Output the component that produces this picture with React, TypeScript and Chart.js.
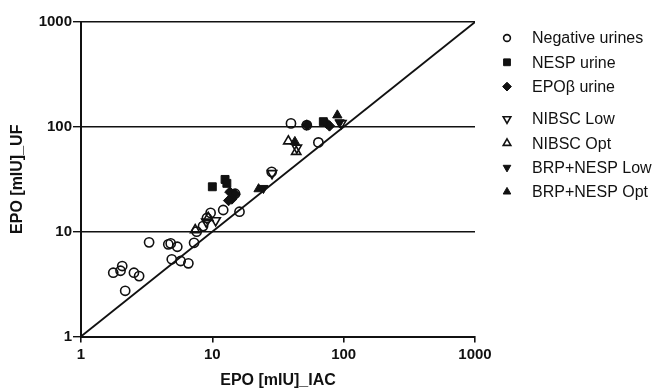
import React, { useEffect, useRef } from "react";
import { Chart, registerables } from "chart.js";
import { drawPoint } from "chart.js/helpers";

Chart.register(...registerables);

// ---- data ----
const decadeTicks = [1, 10, 100, 1000];

const seriesNames = [
  "Negative urines",
  "NESP urine",
  "EPOβ urine",
  "NIBSC Low",
  "NIBSC Opt",
  "BRP+NESP Low",
  "BRP+NESP Opt",
];

const negX = [1.76, 2.0, 2.06, 2.53, 2.77, 2.17, 3.3, 4.62, 4.82, 5.41, 4.91, 5.74, 6.57, 7.26, 7.6, 8.5, 9.1, 9.7, 12.1, 16.1, 14.9, 28.3, 39.7, 52.4, 64.2];
const negY = [4.06, 4.24, 4.7, 4.06, 3.77, 2.73, 7.91, 7.57, 7.73, 7.18, 5.45, 5.25, 4.99, 7.83, 10.0, 11.3, 13.5, 15.1, 16.1, 15.5, 23.0, 37.2, 107.8, 103.7, 71.0];

const nespX = [10.0, 12.5, 12.9, 70];
const nespY = [26.8, 31.5, 28.9, 112];

const epoX = [13.6, 14.9, 14.1, 13.3, 52.4, 74, 78];
const epoY = [23.9, 22.8, 20.5, 19.8, 104, 108, 102];

const nibscLowX = [9.0, 10.6, 28.5, 44, 96];
const nibscLowY = [12.4, 12.8, 36, 63, 108];

const nibscOptX = [7.4, 9.3, 37.9, 43.5];
const nibscOptY = [10.4, 13.6, 73, 58];

const brpLowX = [24.5, 93];
const brpLowY = [26, 110];

const brpOptX = [22.5, 42.5, 89.5];
const brpOptY = [25.5, 72, 129];

const identityLine = [1, 1000];

// ---- styling ----
const FONT = '"Liberation Sans", Arial, Helvetica, sans-serif';
const INK = "#111";

const pts = (xs: number[], ys: number[]) => xs.map((x, i) => ({ x, y: ys[i] }));

type MarkerStyle = {
  pointStyle: string;
  rotation: number;
  filled: boolean;
  radius: number;
  legendRadius: number;
};

const markers: MarkerStyle[] = [
  { pointStyle: "circle", rotation: 0, filled: false, radius: 4.6, legendRadius: 3.4 },
  { pointStyle: "rect", rotation: 0, filled: true, radius: 5.6, legendRadius: 4.8 },
  { pointStyle: "rectRot", rotation: 0, filled: true, radius: 5.2, legendRadius: 4.4 },
  { pointStyle: "triangle", rotation: 180, filled: false, radius: 5.4, legendRadius: 4.4 },
  { pointStyle: "triangle", rotation: 0, filled: false, radius: 5.4, legendRadius: 4.4 },
  { pointStyle: "triangle", rotation: 180, filled: true, radius: 5.4, legendRadius: 4.4 },
  { pointStyle: "triangle", rotation: 0, filled: true, radius: 5.4, legendRadius: 4.4 },
];

const seriesData = [
  pts(negX, negY),
  pts(nespX, nespY),
  pts(epoX, epoY),
  pts(nibscLowX, nibscLowY),
  pts(nibscOptX, nibscOptY),
  pts(brpLowX, brpLowY),
  pts(brpOptX, brpOptY),
];

const legendPlugin = {
  id: "customLegend",
  afterDraw(chart: any) {
    const ctx = chart.ctx;
    ctx.save();
    ctx.font = `16px ${FONT}`;
    ctx.textBaseline = "middle";
    ctx.textAlign = "left";
    seriesNames.forEach((name, i) => {
      const y = 38 + i * 24.3 + (i >= 3 ? 8 : 0);
      const m = markers[i];
      ctx.fillStyle = m.filled ? INK : "rgba(0,0,0,0)";
      ctx.strokeStyle = INK;
      ctx.lineWidth = m.filled ? 1 : 1.6;
      drawPoint(
        ctx,
        { pointStyle: m.pointStyle, rotation: m.rotation, radius: m.legendRadius, borderWidth: ctx.lineWidth },
        507,
        y
      );
      ctx.fillStyle = INK;
      ctx.fillText(name, 532, y + 1);
    });
    ctx.restore();
  },
};

export default function App() {
  const canvasRef = useRef<HTMLCanvasElement | null>(null);

  useEffect(() => {
    if (!canvasRef.current) return;
    const scatterSets = seriesData.map((data, i) => {
      const m = markers[i];
      return {
        type: "scatter" as const,
        label: seriesNames[i],
        data,
        pointStyle: m.pointStyle,
        pointRotation: m.rotation,
        pointRadius: m.radius,
        pointBorderWidth: m.filled ? 1 : 1.6,
        pointBackgroundColor: m.filled ? INK : "rgba(0,0,0,0)",
        pointBorderColor: INK,
        showLine: false,
      };
    });

    const chart = new Chart(canvasRef.current, {
      type: "scatter",
      data: {
        datasets: [
          {
            type: "line" as const,
            label: "identity",
            data: identityLine.map((v) => ({ x: v, y: v })),
            borderColor: INK,
            borderWidth: 1.8,
            pointRadius: 0,
            fill: false,
          },
          ...scatterSets,
        ] as any,
      },
      options: {
        responsive: false,
        animation: false,
        devicePixelRatio: 1,
        layout: { padding: { top: 22, right: 179, bottom: 0, left: 0 } },
        plugins: {
          legend: { display: false },
          tooltip: { enabled: false },
        },
        scales: {
          x: {
            type: "logarithmic",
            min: 1,
            max: 1000,
            afterBuildTicks: (scale: any) => {
              scale.ticks = decadeTicks.map((v) => ({ value: v, major: true }));
            },
            afterFit: (scale: any) => {
              scale.height = 53.5;
            },
            ticks: {
              autoSkip: false,
              maxRotation: 0,
              padding: 3,
              color: INK,
              font: { family: FONT, size: 15, weight: "bold" },
              callback: (v: any) => String(v),
            },
            grid: {
              display: true,
              drawOnChartArea: false,
              drawTicks: true,
              tickLength: 6,
              color: INK,
              lineWidth: 1.6,
            },
            border: { display: true, color: INK, width: 2 },
            title: {
              display: true,
              text: "EPO [mIU]_IAC",
              color: INK,
              font: { family: FONT, size: 16, weight: "bold" },
              padding: { top: 0, bottom: 0 },
            },
          },
          y: {
            type: "logarithmic",
            min: 1,
            max: 1000,
            afterBuildTicks: (scale: any) => {
              scale.ticks = decadeTicks.map((v) => ({ value: v, major: true }));
            },
            afterFit: (scale: any) => {
              scale.width = 81;
            },
            ticks: {
              autoSkip: false,
              padding: 1,
              color: INK,
              font: { family: FONT, size: 15, weight: "bold" },
              callback: (v: any) => String(v),
            },
            grid: {
              display: true,
              drawOnChartArea: true,
              drawTicks: true,
              tickLength: 8,
              color: INK,
              lineWidth: 1.4,
            },
            border: { display: true, color: INK, width: 2 },
            title: {
              display: true,
              text: "EPO [mIU]_UF",
              color: INK,
              font: { family: FONT, size: 16, weight: "bold" },
              padding: { top: 8, bottom: 0 },
            },
          },
        },
      } as any,
      plugins: [legendPlugin],
    });

    return () => chart.destroy();
  }, []);

  return (
    <div style={{ position: "fixed", left: 0, top: 0, width: 654, height: 390, background: "#fff" }}>
      <canvas ref={canvasRef} width={654} height={390} style={{ display: "block" }} />
    </div>
  );
}
